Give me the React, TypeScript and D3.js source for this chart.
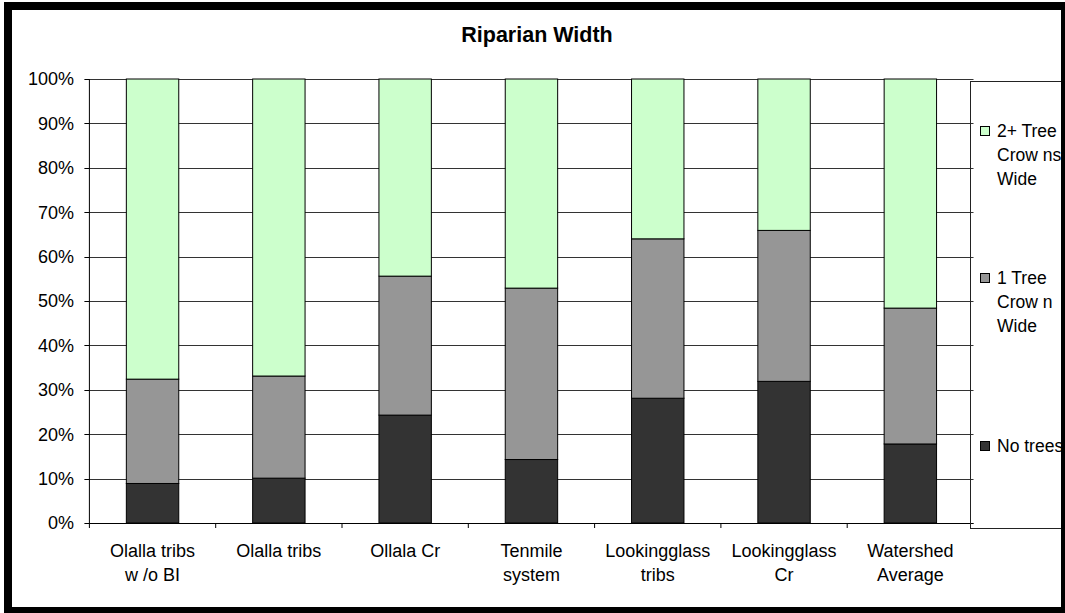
import React from "react";
import * as d3 from "d3";

const categories = [
  "Olalla tribs\nw /o BI",
  "Olalla tribs",
  "Ollala Cr",
  "Tenmile\nsystem",
  "Lookingglass\ntribs",
  "Lookingglass\nCr",
  "Watershed\nAverage",
];
const noTrees = [8.9, 10.1, 24.3, 14.3, 28.1, 31.9, 17.8];
const oneTree = [23.5, 23.0, 31.3, 38.6, 35.9, 34.0, 30.6];
const twoPlus = [67.6, 66.9, 44.4, 47.1, 36.0, 34.1, 51.6];
const seriesKeys = ["noTrees", "oneTree", "twoPlus"];
const seriesColors = ["#333333", "#969696", "#CCFFCC"];
const legendLabels = [
  ["2+ Tree", "Crow ns", "Wide"],
  ["1 Tree", "Crow n", "Wide"],
  ["No trees"],
];
const legendColors = ["#CCFFCC", "#969696", "#333333"];
const yTicks = [0, 0.1, 0.2, 0.3, 0.4, 0.5, 0.6, 0.7, 0.8, 0.9, 1];
const title = "Riparian Width";

const FONT = "'Liberation Sans', Arial, Helvetica, sans-serif";

export default function App() {
  const W = 1065;
  const H = 613;
  const left = 89.4;
  const right = 973.5;
  const top = 79;
  const bottom = 523;

  const rows = categories.map((c, i) => ({
    cat: c,
    noTrees: noTrees[i],
    oneTree: oneTree[i],
    twoPlus: twoPlus[i],
  }));
  const stack = d3.stack<any>().keys(seriesKeys).offset(d3.stackOffsetExpand);
  const stacked = stack(rows);

  const x = d3
    .scaleBand<string>()
    .domain(categories)
    .range([left, right])
    .paddingInner(0.585)
    .paddingOuter(0.2925);
  const step = x.step();
  const y = d3.scaleLinear().domain([0, 1]).range([bottom, top]);

  const fs = 18;

  return (
    <svg
      width={W}
      height={H}
      style={{ position: "absolute", left: 0, top: 0, background: "#fff" }}
      fontFamily={FONT}
    >
      <rect x={0} y={0} width={W} height={H} fill="#fff" />
      <text
        x={537}
        y={41.5}
        textAnchor="middle"
        fontWeight="bold"
        fontSize={21.5}
        fill="#000"
      >
        {title}
      </text>

      {/* gridlines */}
      {yTicks.map((t) => (
        <line
          key={"g" + t}
          x1={left}
          x2={right}
          y1={Math.round(y(t)) + 0.5}
          y2={Math.round(y(t)) + 0.5}
          stroke="#333"
          strokeWidth={1}
        />
      ))}

      {/* bars */}
      {stacked.map((s, si) =>
        s.map((d, i) => {
          const x0 = x(categories[i])!;
          const y0 = y(d[1]);
          const y1 = y(d[0]);
          return (
            <rect
              key={si + "-" + i}
              x={x0}
              y={y0}
              width={x.bandwidth()}
              height={y1 - y0}
              fill={seriesColors[si]}
              stroke="#000"
              strokeWidth={1}
            />
          );
        })
      )}

      {/* y axis */}
      <line x1={left} x2={left} y1={top} y2={bottom + 5} stroke="#000" />
      {yTicks.map((t) => (
        <g key={"t" + t}>
          <line
            x1={left - 5}
            x2={left}
            y1={Math.round(y(t)) + 0.5}
            y2={Math.round(y(t)) + 0.5}
            stroke="#000"
          />
          <text
            x={74}
            y={y(t)}
            dy="0.35em"
            textAnchor="end"
            fontSize={fs}
            fill="#000"
          >
            {Math.round(t * 100) + "%"}
          </text>
        </g>
      ))}

      {/* x axis */}
      <line
        x1={left}
        x2={right}
        y1={bottom + 0.5}
        y2={bottom + 0.5}
        stroke="#000"
      />
      {categories.map((c, i) => {
        const bx = left + step * (i + 1);
        return i < categories.length - 1 ? (
          <line
            key={"xt" + i}
            x1={bx}
            x2={bx}
            y1={bottom}
            y2={bottom + 5}
            stroke="#000"
          />
        ) : null;
      })}
      {categories.map((c, i) => {
        const cx = x(c)! + x.bandwidth() / 2;
        return (
          <text
            key={"xl" + i}
            x={cx}
            textAnchor="middle"
            fontSize={fs}
            fill="#000"
          >
            {c.split("\n").map((ln, j) => (
              <tspan key={j} x={cx} y={551 + j * 24} dy="0.35em">
                {ln}
              </tspan>
            ))}
          </text>
        );
      })}

      {/* legend */}
      <rect
        x={970.5}
        y={81.5}
        width={120}
        height={447}
        fill="none"
        stroke="#222"
      />
      {legendLabels.map((lines, li) => {
        const cy = [131, 278, 446][li];
        return (
          <g key={"lg" + li}>
            <rect
              x={980.5}
              y={cy - 4.5}
              width={9}
              height={9}
              fill={legendColors[li]}
              stroke="#000"
            />
            {lines.map((ln, j) => (
              <text
                key={j}
                x={997}
                y={cy + j * 24}
                dy="0.35em"
                fontSize={17.5}
                fill="#000"
              >
                {ln}
              </text>
            ))}
          </g>
        );
      })}

      {/* outer frame */}
      <rect x={4} y={2} width={W} height={8} fill="#000" />
      <rect x={4} y={2} width={8} height={H} fill="#000" />
      <rect x={1061} y={2} width={10} height={H} fill="#000" />
      <rect x={4} y={607} width={W} height={10} fill="#000" />
    </svg>
  );
}
